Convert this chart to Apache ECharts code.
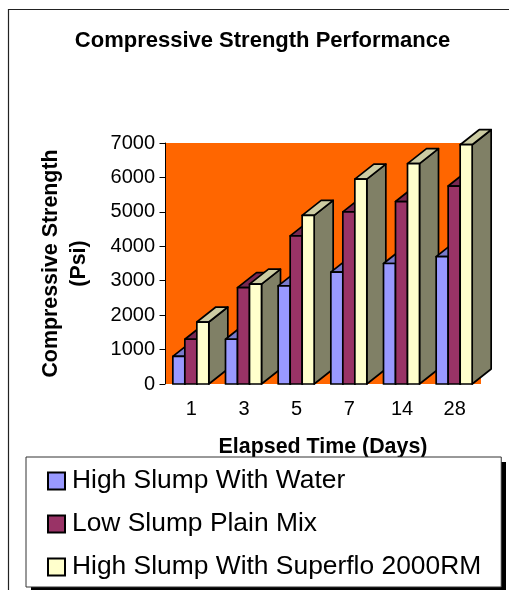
<!DOCTYPE html>
<html><head><meta charset="utf-8">
<style>html,body{margin:0;padding:0;background:#fff}#c{width:509px;height:590px}</style>
<script src="https://cdn.jsdelivr.net/npm/echarts@6/dist/echarts.min.js"></script>
</head><body><div id="c"></div>
<script>
var categories = ['1','3','5','7','14','28'];
var highSlumpWater = [800,1300,2850,3250,3500,3700];
var lowSlumpPlain = [1300,2800,4300,5000,5300,5750];
var highSlumpSuperflo = [1800,2900,4900,5950,6400,6950];
var seriesNames = ['High Slump With Water','Low Slump Plain Mix','High Slump With Superflo 2000RM'];
var yTicks = {min:0,max:7000,interval:1000};

var FONT = '"Liberation Sans", Arial, sans-serif';
var palette = [
  {front:'#9999FF',top:'#7A7ACC',side:'#666699'},
  {front:'#993366',top:'#7A2952',side:'#4D1A33'},
  {front:'#FFFFCC',top:'#CCCCA3',side:'#808066'}
];
var DX = 19, DY = 15, EDGE = 1.7, BAR_RATIO = 12/52.67;

function makeRender(si){
  return function(params, api){
    var i = api.value(0), v = api.value(1);
    var band = api.size([1,0])[0];
    var w = band*BAR_RATIO;
    var c0 = api.coord([i,0]), c1 = api.coord([i,v]);
    var x0 = c0[0] - w*1.5 + w*si - 0.5, x1 = x0 + w;
    var yb = c0[1], yt = c1[1];
    var z = i*3 + si;
    var st = function(f){return {fill:f,stroke:'#000',lineWidth:EDGE,lineJoin:'round'};};
    return {type:'group',children:[
      {type:'polygon',z2:z,shape:{points:[[x1,yb],[x1+DX,yb-DY],[x1+DX,yt-DY],[x1,yt]]},style:st(palette[si].side)},
      {type:'polygon',z2:z,shape:{points:[[x0,yt],[x1,yt],[x1+DX,yt-DY],[x0+DX,yt-DY]]},style:st(palette[si].top)},
      {type:'rect',z2:z,shape:{x:x0,y:yt,width:w,height:yb-yt},style:st(palette[si].front)}
    ]};
  };
}
var arrays = [highSlumpWater,lowSlumpPlain,highSlumpSuperflo];
var chart = echarts.init(document.getElementById('c'),null,{renderer:'canvas'});
chart.setOption({
  animation:false,
  backgroundColor:'#fff',
  graphic:[
    {type:'rect',z:-1,silent:true,shape:{x:8.5,y:9.5,width:520,height:600},style:{fill:'none',stroke:'#222',lineWidth:1.2}},
    {type:'rect',z:1,silent:true,shape:{x:31,y:462,width:475,height:130},style:{fill:'#000'}}
  ],
  title:{text:'Compressive Strength Performance',left:257.5,top:25,textAlign:'center',
    textStyle:{fontFamily:FONT,fontSize:22,fontWeight:'bold',color:'#000'}},
  grid:{left:165,top:143,width:316,height:241,show:true,backgroundColor:'#FF6600',borderWidth:0},
  xAxis:{type:'category',data:categories,name:'Elapsed Time (Days)',nameLocation:'middle',nameGap:53,
    nameTextStyle:{fontFamily:FONT,fontSize:21.4,fontWeight:'bold',color:'#000'},
    axisTick:{show:false},axisLine:{show:false},
    axisLabel:{fontFamily:FONT,fontSize:20,color:'#000',margin:15}},
  yAxis:{type:'value',min:yTicks.min,max:yTicks.max,interval:yTicks.interval,
    name:'Compressive Strength\n(Psi)',nameLocation:'middle',nameGap:72,nameRotate:90,
    nameTextStyle:{fontFamily:FONT,fontSize:21.4,fontWeight:'bold',color:'#000',lineHeight:28},
    splitLine:{show:false},
    axisLine:{show:true,lineStyle:{color:'#000',width:1}},
    axisTick:{show:true,length:5.5,lineStyle:{color:'#000',width:1}},
    axisLabel:{fontFamily:FONT,fontSize:20,color:'#000',margin:10,formatter:function(v){return String(v);}}},
  legend:{show:true,orient:'vertical',left:26,top:457,padding:[11,20,7,21],itemGap:17,itemWidth:17,itemHeight:17,
    backgroundColor:'#fff',borderColor:'#333',borderWidth:1,
    textStyle:{fontFamily:FONT,fontSize:26.4,color:'#000',padding:[0,0,0,2]},
    data:seriesNames.map(function(n,i){return {name:n,icon:'rect',itemStyle:{color:palette[i].front,borderColor:'#000',borderWidth:2}};})},
  series:seriesNames.map(function(n,si){return {
    type:'custom',name:n,clip:false,coordinateSystem:'cartesian2d',
    itemStyle:{color:palette[si].front},
    encode:{x:0,y:1},
    renderItem:makeRender(si),
    data:arrays[si].map(function(v,i){return [i,v];})
  };})
});
</script></body></html>
